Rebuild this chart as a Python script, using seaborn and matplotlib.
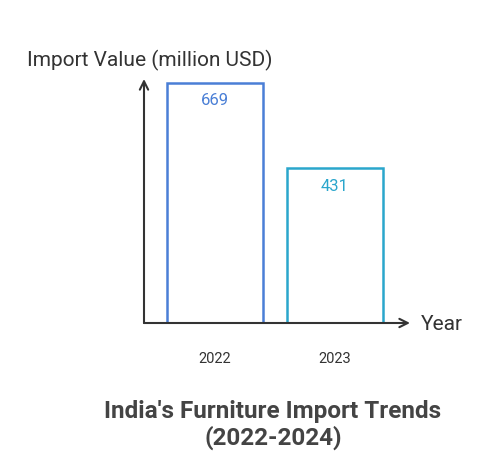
import matplotlib
matplotlib.use("Agg")
import matplotlib.pyplot as plt
import seaborn as sns
import pandas as pd

years = ["2022", "2023"]
values = [669, 431]
colors = ["#4a7fd6", "#2aa6cc"]

sns.set_theme(style="white")
plt.rcParams['font.family'] = ['Roboto', 'DejaVu Sans']

fig = plt.figure(figsize=(4.88, 4.64), dpi=100)
ax = fig.add_axes([144/488, (464-324)/464, (410-144)/488, (324-80)/464])
df = pd.DataFrame({"year": years, "value": values})
sns.barplot(data=df, x="year", y="value", hue="year", palette=colors, ax=ax, legend=False, width=0.8)
for p, c, v in zip(ax.patches, colors, values):
    p.set_facecolor("white")
    p.set_edgecolor(c)
    p.set_linewidth(1.8)
    ax.text(p.get_x() + p.get_width()/2, v - 47, str(v), ha="center", va="center",
            color=c, fontsize=12)
ax.set_xlim(-0.592, 1.625)
ax.set_ylim(0, 680)
for s in ax.spines.values():
    s.set_visible(False)
ax.set_yticks([])
ax.set_xlabel("")
ax.set_ylabel("")
ax.tick_params(axis="x", length=0, pad=20, labelsize=10.5, labelcolor="#333333")
arrow = dict(arrowstyle="->", color="#333333", lw=1.5, mutation_scale=15, shrinkA=0, shrinkB=0)
ax.annotate("", xy=(0, 1), xytext=(0, 0), xycoords="axes fraction", arrowprops=arrow)
ax.annotate("", xy=(1, 0), xytext=(0, 0), xycoords="axes fraction", arrowprops=arrow)
fig.text(27/488, 1-60/464, "Import Value (million USD)", ha="left", va="center", fontsize=15, color="#333333")
fig.text(421/488, 1-324/464, "Year", ha="left", va="center", fontsize=15, color="#333333")
fig.text(273/488, 1-425/464, "India's Furniture Import Trends\n(2022-2024)", ha="center", va="center",
         fontsize=17.5, fontweight="bold", color="#444444", linespacing=1.1)
fig.savefig("out.png", dpi=100)
